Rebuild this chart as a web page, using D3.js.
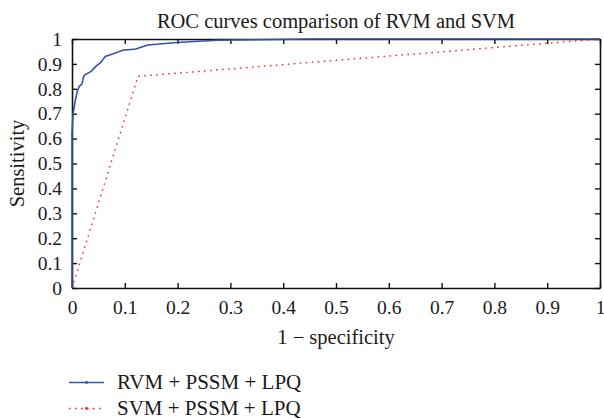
<!DOCTYPE html>
<html>
<head>
<meta charset="utf-8">
<script src="https://cdn.jsdelivr.net/npm/d3@7"></script>
<style>
  html, body { margin: 0; padding: 0; background: #fff; }
  text { font-family: "Liberation Serif", "DejaVu Serif", serif; fill: #1a1a1a; }
</style>
</head>
<body>
<svg id="chart" width="604" height="419"></svg>
<script>
// ---- data ----
const rvmFpr = [0, 0, 0.002, 0.006, 0.010, 0.014, 0.019, 0.022, 0.025, 0.036, 0.045, 0.054, 0.063, 0.077, 0.096, 0.121, 0.135, 0.144, 0.198, 0.274, 0.45, 1];
const rvmTpr = [0, 0.62, 0.70, 0.75, 0.79, 0.81, 0.82, 0.85, 0.857, 0.87, 0.89, 0.905, 0.93, 0.94, 0.955, 0.96, 0.97, 0.976, 0.986, 0.995, 1, 1];
const svmFpr = [0, 0.125, 1];
const svmTpr = [0, 0.85, 1];
const xTicks = [0, 0.1, 0.2, 0.3, 0.4, 0.5, 0.6, 0.7, 0.8, 0.9, 1];
const yTicks = [0, 0.1, 0.2, 0.3, 0.4, 0.5, 0.6, 0.7, 0.8, 0.9, 1];
const seriesNames = ["RVM + PSSM + LPQ", "SVM + PSSM + LPQ"];
const titleText = "ROC curves comparison of RVM and SVM";
const xLabel = "1 \u2212 specificity";
const yLabel = "Sensitivity";

// ---- layout ----
const svg = d3.select("#chart");
const L = 72, R = 600, T = 39, B = 288;
const x = d3.scaleLinear().domain([0, 1]).range([L, R]);
const y = d3.scaleLinear().domain([0, 1]).range([B, T]);
const blue = "#3553a6", red = "#ff2020";
const tickFmt = d => d === 0 ? "0" : d === 1 ? "1" : d3.format(".1f")(d);

// axes (inward ticks)
const gx = svg.append("g").attr("transform", `translate(0,${B})`)
  .call(d3.axisBottom(x).tickValues(xTicks).tickFormat(tickFmt).tickSizeInner(-5).tickSizeOuter(0).tickPadding(12));
const gy = svg.append("g").attr("transform", `translate(${L},0)`)
  .call(d3.axisLeft(y).tickValues(yTicks).tickFormat(tickFmt).tickSizeInner(-5).tickSizeOuter(0).tickPadding(10));
const gt = svg.append("g").attr("transform", `translate(0,${T})`)
  .call(d3.axisTop(x).tickValues(xTicks).tickFormat("").tickSizeInner(-5).tickSizeOuter(0));
const gr = svg.append("g").attr("transform", `translate(${R},0)`)
  .call(d3.axisRight(y).tickValues(yTicks).tickFormat("").tickSizeInner(-5).tickSizeOuter(0));
[gx, gy, gt, gr].forEach(g => {
  g.attr("font-family", null);
  g.selectAll("path.domain").attr("stroke", "#111").attr("stroke-width", 1.6);
  g.selectAll(".tick line").attr("stroke", "#111").attr("stroke-width", 1.4);
  g.selectAll(".tick text").attr("font-size", 19.5).attr("fill", "#1a1a1a")
    .style("font-family", "'Liberation Serif', serif");
});

// lines
const line = d3.line().x(d => x(d[0])).y(d => y(d[1]));
const rvm = rvmFpr.map((f, i) => [f, rvmTpr[i]]);
const svm = svmFpr.map((f, i) => [f, svmTpr[i]]);
svg.append("path").datum(svm).attr("d", line).attr("fill", "none")
  .attr("stroke", red).attr("stroke-width", 1.4).attr("stroke-dasharray", "1.6,4.4");
svg.append("path").datum(rvm).attr("d", line).attr("fill", "none")
  .attr("stroke", blue).attr("stroke-width", 1.6);

// title and labels
svg.append("text").attr("x", (L + R) / 2).attr("y", 28).attr("text-anchor", "middle")
  .attr("font-size", 20.5).text(titleText);
svg.append("text").attr("x", (L + R) / 2).attr("y", 344).attr("text-anchor", "middle")
  .attr("font-size", 20.5).text(xLabel);
svg.append("text").attr("transform", `translate(24,${(T + B) / 2}) rotate(-90)`)
  .attr("text-anchor", "middle").attr("font-size", 20.5).text(yLabel);

// legend
const legY = [382.5, 408.5];
const legStyles = [
  { color: blue, dash: null, w: 1.6 },
  { color: red, dash: "1.6,4.4", w: 1.4 }
];
seriesNames.forEach((name, i) => {
  const g = svg.append("g");
  g.append("line").attr("x1", 69).attr("x2", 104).attr("y1", legY[i]).attr("y2", legY[i])
    .attr("stroke", legStyles[i].color).attr("stroke-width", legStyles[i].w)
    .attr("stroke-dasharray", legStyles[i].dash);
  g.append("circle").attr("cx", 86.5).attr("cy", legY[i]).attr("r", 1.4).attr("fill", legStyles[i].color);
  g.append("text").attr("x", 117).attr("y", legY[i] + 6.5).attr("font-size", 21).text(name);
});
</script>
</body>
</html>
